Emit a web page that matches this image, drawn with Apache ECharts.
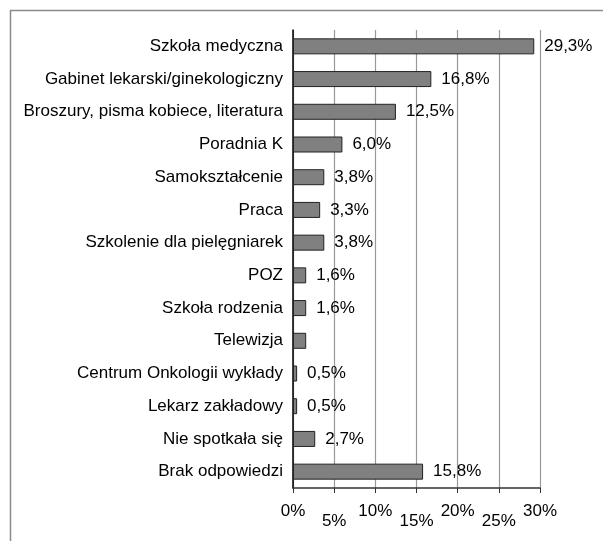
<!DOCTYPE html>
<html>
<head>
<meta charset="utf-8">
<style>
  html, body { margin: 0; padding: 0; background: #fff; }
  #chart { width: 603px; height: 541px; }
</style>
</head>
<body>
<div id="chart"></div>
<script src="https://cdn.jsdelivr.net/npm/echarts@6/dist/echarts.min.js"></script>
<script type="text/javascript">
// kategorie (od góry do dołu)
var categories = [
  'Szkoła medyczna',
  'Gabinet lekarski/ginekologiczny',
  'Broszury, pisma kobiece, literatura',
  'Poradnia K',
  'Samokształcenie',
  'Praca',
  'Szkolenie dla pielęgniarek',
  'POZ',
  'Szkoła rodzenia',
  'Telewizja',
  'Centrum Onkologii wykłady',
  'Lekarz zakładowy',
  'Nie spotkała się',
  'Brak odpowiedzi'
];
// wartości w %
var values = [29.3, 16.8, 12.5, 6.0, 3.8, 3.3, 3.8, 1.6, 1.6, 1.6, 0.5, 0.5, 2.7, 15.8];
// etykiety przy słupkach (puste = brak etykiety)
var valueLabels = ['29,3%', '16,8%', '12,5%', '6,0%', '3,8%', '3,3%', '3,8%', '1,6%', '1,6%', '', '0,5%', '0,5%', '2,7%', '15,8%'];
var xTicks = [0, 5, 10, 15, 20, 25, 30];

var font = "'Liberation Sans', Arial, sans-serif";
var chart = echarts.init(document.getElementById('chart'));

var option = {
  animation: false,
  textStyle: { fontFamily: font },
  graphic: [{
    type: 'rect',
    shape: { x: 10.5, y: 10.5, width: 800, height: 800 },
    style: { fill: 'none', stroke: '#8a8a8a', lineWidth: 1.5 }
  }],
  grid: { left: 293, right: 63, top: 30, bottom: 53, containLabel: false },
  xAxis: {
    type: 'value',
    min: xTicks[0],
    max: xTicks[xTicks.length - 1],
    interval: 5,
    axisLine: { show: true, lineStyle: { color: '#333', width: 1.5 } },
    axisTick: { show: true, length: 5, lineStyle: { color: '#333' } },
    splitLine: { show: true, lineStyle: { color: '#999', width: 1.2 } },
    axisLabel: {
      margin: 15,
      color: '#000',
      fontFamily: font,
      fontSize: 17,
      formatter: function (v, i) {
        return (i % 2 ? '{b|' : '{a|') + v + '%}';
      },
      rich: {
        a: { fontSize: 17, fontFamily: font, color: '#000' },
        b: { fontSize: 17, fontFamily: font, color: '#000', padding: [10, 0, 0, 0] }
      }
    }
  },
  yAxis: {
    type: 'category',
    inverse: true,
    data: categories,
    axisLine: { show: true, lineStyle: { color: '#000', width: 1.5 } },
    axisTick: { show: false },
    axisLabel: { margin: 10, color: '#000', fontFamily: font, fontSize: 17 }
  },
  series: [{
    type: 'bar',
    data: values,
    barWidth: 16,
    itemStyle: { color: '#808080', borderColor: '#222', borderWidth: 1 },
    label: {
      show: true,
      position: 'right',
      distance: 10,
      color: '#000',
      fontFamily: font,
      fontSize: 17,
      formatter: function (p) { return valueLabels[p.dataIndex]; }
    }
  }]
};
chart.setOption(option);
</script>
</body>
</html>
